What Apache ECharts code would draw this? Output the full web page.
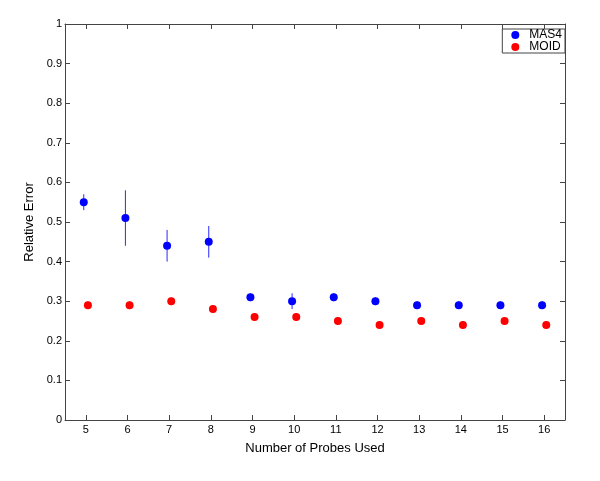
<!DOCTYPE html>
<html><head><meta charset="utf-8">
<script src="https://cdn.jsdelivr.net/npm/echarts@6/dist/echarts.min.js"></script>
<style>html,body{margin:0;padding:0;background:#fff}#c{width:600px;height:481px}</style>
</head><body><div id="c"></div>
<script>
const probes = [5,6,7,8,9,10,11,12,13,14,15,16];
const mas4 = [0.55,0.51,0.44,0.45,0.31,0.30,0.31,0.30,0.29,0.29,0.29,0.29];
const mas4Low = [0.53,0.44,0.40,0.41,0.30,0.28,0.30,0.29,0.28,0.28,0.28,0.28];
const mas4High = [0.57,0.58,0.48,0.49,0.32,0.32,0.32,0.31,0.30,0.30,0.30,0.30];
const moid = [0.29,0.29,0.30,0.28,0.26,0.26,0.25,0.24,0.25,0.24,0.25,0.24];
const moidLow = [0.28,0.28,0.29,0.27,0.25,0.25,0.24,0.23,0.24,0.23,0.24,0.23];
const moidHigh = [0.30,0.30,0.31,0.29,0.27,0.27,0.26,0.25,0.26,0.25,0.26,0.25];
const yTicks = [0,0.1,0.2,0.3,0.4,0.5,0.6,0.7,0.8,0.9,1];

const OFF = 0.05;
const AX = '#444';
const font = 'Liberation Sans, Arial, Helvetica, sans-serif';
function errSeries(color, xs, lo, hi, off){
  const data = [];
  xs.forEach((x,i)=>{ data.push([x+off, lo[i]]); data.push([x+off, hi[i]]); data.push([x+off, '-']); });
  return {
    type:'line', silent:true, z:1, symbol:'none', connectNulls:false,
    lineStyle:{color:color, width:1}, itemStyle:{color:color},
    data: data
  };
}
const tick = (vals)=>({show:true, inside:true, length:5, lineStyle:{color:AX}, customValues:vals});
const line = {show:true, onZero:false, lineStyle:{color:AX, width:1}};
const chart = echarts.init(document.getElementById('c'), null, {renderer:'canvas'});
chart.setOption({
  animation:false,
  backgroundColor:'#fff',
  textStyle:{fontFamily:font},
  grid:{left:65, right:35, top:24, bottom:61},
  legend:{
    orient:'vertical', right:35, top:29,
    data:[{name:'MAS4', icon:'circle'},{name:'MOID', icon:'circle'}],
    itemWidth:8, itemHeight:8, itemGap:0,
    padding:[0,3,0,9],
    borderColor:AX, borderWidth:1, backgroundColor:'#fff',
    textStyle:{fontFamily:font, fontSize:12, color:'#000', lineHeight:12, padding:[0,0,0,5]}
  },
  xAxis:[
    {type:'value', min:4.5, max:16.5, position:'bottom', axisLine:line, splitLine:{show:false},
      name:'Number of Probes Used', nameLocation:'middle', nameGap:22,
      nameTextStyle:{fontFamily:font, fontSize:13, color:'#000'},
      axisTick:tick(probes),
      axisLabel:{customValues:probes, color:'#000', fontSize:11, fontFamily:font, margin:4}},
    {type:'value', min:4.5, max:16.5, position:'top', axisLine:line, splitLine:{show:false},
      axisTick:tick(probes), axisLabel:{show:false, customValues:probes}}
  ],
  yAxis:[
    {type:'value', min:0, max:1, position:'left', axisLine:line, splitLine:{show:false},
      name:'Relative Error', nameLocation:'middle', nameGap:26,
      nameTextStyle:{fontFamily:font, fontSize:13, color:'#000'},
      axisTick:tick(yTicks),
      axisLabel:{customValues:yTicks, color:'#000', fontSize:11, fontFamily:font, margin:3}},
    {type:'value', min:0, max:1, position:'right', axisLine:line, splitLine:{show:false},
      axisTick:tick(yTicks), axisLabel:{show:false, customValues:yTicks}}
  ],
  series:[
    errSeries('#2a2aff', probes, mas4Low, mas4High, -OFF),
    errSeries('#ff2a2a', probes, moidLow, moidHigh, OFF),
    {name:'MAS4', type:'scatter', symbol:'circle', symbolSize:8, z:3,
     itemStyle:{color:'#0000ff', opacity:1}, data: probes.map((x,i)=>[x-OFF, mas4[i]])},
    {name:'MOID', type:'scatter', symbol:'circle', symbolSize:8, z:3,
     itemStyle:{color:'#ff0000', opacity:1}, data: probes.map((x,i)=>[x+OFF, moid[i]])}
  ]
});
</script></body></html>
